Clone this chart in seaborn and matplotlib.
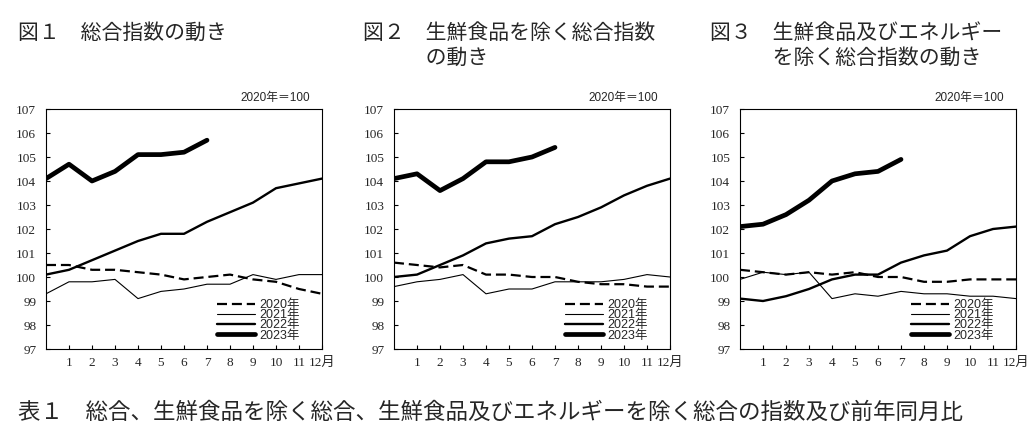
import numpy as np
import pandas as pd
import matplotlib
matplotlib.use("Agg")
import matplotlib.pyplot as plt
import seaborn as sns

# 月（0 は前年12月）
months = list(range(13))
tick_labels = [str(m) for m in range(1, 12)] + ["12月"]
years = ["2020年", "2021年", "2022年", "2023年"]

# 図1 総合
sogo_2020 = [100.5, 100.5, 100.3, 100.3, 100.2, 100.1, 99.9, 100.0, 100.1, 99.9, 99.8, 99.5, 99.3]
sogo_2021 = [99.3, 99.8, 99.8, 99.9, 99.1, 99.4, 99.5, 99.7, 99.7, 100.1, 99.9, 100.1, 100.1]
sogo_2022 = [100.1, 100.3, 100.7, 101.1, 101.5, 101.8, 101.8, 102.3, 102.7, 103.1, 103.7, 103.9, 104.1]
sogo_2023 = [104.1, 104.7, 104.0, 104.4, 105.1, 105.1, 105.2, 105.7]

# 図2 生鮮食品を除く総合
core_2020 = [100.6, 100.5, 100.4, 100.5, 100.1, 100.1, 100.0, 100.0, 99.8, 99.7, 99.7, 99.6, 99.6]
core_2021 = [99.6, 99.8, 99.9, 100.1, 99.3, 99.5, 99.5, 99.8, 99.8, 99.8, 99.9, 100.1, 100.0]
core_2022 = [100.0, 100.1, 100.5, 100.9, 101.4, 101.6, 101.7, 102.2, 102.5, 102.9, 103.4, 103.8, 104.1]
core_2023 = [104.1, 104.3, 103.6, 104.1, 104.8, 104.8, 105.0, 105.4]

# 図3 生鮮食品及びエネルギーを除く総合
cc_2020 = [100.3, 100.2, 100.1, 100.2, 100.1, 100.2, 100.0, 100.0, 99.8, 99.8, 99.9, 99.9, 99.9]
cc_2021 = [99.9, 100.2, 100.1, 100.2, 99.1, 99.3, 99.2, 99.4, 99.3, 99.3, 99.2, 99.2, 99.1]
cc_2022 = [99.1, 99.0, 99.2, 99.5, 99.9, 100.1, 100.1, 100.6, 100.9, 101.1, 101.7, 102.0, 102.1]
cc_2023 = [102.1, 102.2, 102.6, 103.2, 104.0, 104.3, 104.4, 104.9]

panels = [
    ("図１　総合指数の動き", [sogo_2020, sogo_2021, sogo_2022, sogo_2023]),
    ("図２　生鮮食品を除く総合指数\n　　　の動き", [core_2020, core_2021, core_2022, core_2023]),
    ("図３　生鮮食品及びエネルギー\n　　　を除く総合指数の動き", [cc_2020, cc_2021, cc_2022, cc_2023]),
]

styles = {
    "2020年": dict(lw=1.6, ls=(0, (4.5, 2.2))),
    "2021年": dict(lw=0.8, ls="-"),
    "2022年": dict(lw=1.7, ls="-"),
    "2023年": dict(lw=3.4, ls="-"),
}

sns.set_style("white")
plt.rcParams["font.family"] = ["Liberation Sans", "Noto Sans CJK JP"]
jp = ["Noto Sans CJK JP", "DejaVu Sans"]
serif = ["Liberation Serif", "Noto Sans CJK JP"]
sans = ["Liberation Sans", "Noto Sans CJK JP"]

fig = plt.figure(figsize=(10.36, 4.42), dpi=100)
W, H = 1036, 442
axes_left = [46, 394, 740]
title_x = [18, 363, 710]

for i, (title, series) in enumerate(panels):
    x0 = axes_left[i]
    ax = fig.add_axes([x0 / W, 1 - 349 / H, 276 / W, 240 / H])
    for yr, vals in zip(years, series):
        st = styles[yr]
        sns.lineplot(x=months[:len(vals)], y=vals, ax=ax, color="black",
                     linewidth=st["lw"], linestyle=st["ls"], label=yr)
    ax.set_xlim(0, 12)
    ax.set_ylim(97, 107)
    ax.set_xticks(range(1, 13))
    ax.set_xticklabels(tick_labels, fontsize=9.5, family=serif)
    ax.set_yticks(range(97, 108))
    ax.set_yticklabels([str(v) for v in range(97, 108)], fontsize=9.5, family=serif)
    ax.tick_params(direction="in", length=3, width=0.8, color="black")
    ax.tick_params(axis="y", left=True, pad=7)
    ax.tick_params(axis="x", bottom=True, pad=6)
    for sp in ax.spines.values():
        sp.set_color("black")
        sp.set_linewidth(0.8)
    ax.set_xlabel("")
    ax.set_ylabel("")
    ax.legend(loc="lower right", bbox_to_anchor=(0.946, 0.0), frameon=False,
              handlelength=3.1, labelspacing=-0.15, borderaxespad=0.2,
              handletextpad=0.3, prop={"family": sans, "size": 9})
    ax.text(0.957, 1.02, "2020年＝100", transform=ax.transAxes, ha="right", va="bottom",
            fontsize=8.5, family=sans)
    fig.text(title_x[i] / W, 1 - 22 / H, title, ha="left", va="top",
             fontsize=15, family=jp, linespacing=1.15)

fig.text(18 / W, 1 - 412 / H, "表１　総合、生鮮食品を除く総合、生鮮食品及びエネルギーを除く総合の指数及び前年同月比",
         ha="left", va="center", fontsize=16.2, family=jp)

fig.savefig("out.png", dpi=100)
